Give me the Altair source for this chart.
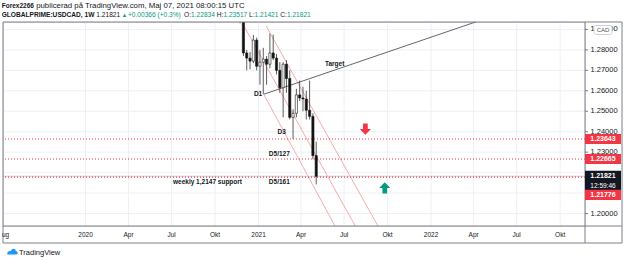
import altair as alt
import pandas as pd

# ---- weekly USDCAD candles ----
weeks = ["2020-11-23", "2020-11-30", "2020-12-07", "2020-12-14", "2020-12-21", "2020-12-28",
         "2021-01-04", "2021-01-11", "2021-01-18", "2021-01-25", "2021-02-01", "2021-02-08",
         "2021-02-15", "2021-02-22", "2021-03-01", "2021-03-08", "2021-03-15", "2021-03-22",
         "2021-03-29", "2021-04-05", "2021-04-12", "2021-04-19", "2021-04-26", "2021-05-03"]
opens = [1.3095, 1.2990, 1.2785, 1.2760, 1.2745, 1.2848, 1.2720, 1.2740, 1.2755, 1.2730,
         1.2785, 1.2760, 1.2700, 1.2615, 1.2730, 1.2660, 1.2470, 1.2490, 1.2580, 1.2565,
         1.2560, 1.2505, 1.2475, 1.22834]
highs = [1.3135, 1.3005, 1.2800, 1.2790, 1.2873, 1.2860, 1.2800, 1.2810, 1.2770, 1.2880,
         1.2875, 1.2780, 1.2740, 1.2740, 1.2750, 1.2700, 1.2510, 1.2610, 1.2650, 1.2620,
         1.2600, 1.2650, 1.2490, 1.23517]
lows = [1.2930, 1.2770, 1.2700, 1.2705, 1.2735, 1.2700, 1.2630, 1.2585, 1.2630, 1.2710,
        1.2750, 1.2680, 1.2590, 1.2470, 1.2590, 1.2460, 1.2365, 1.2470, 1.2550, 1.2500,
        1.2460, 1.2460, 1.2265, 1.21421]
closes = [1.2990, 1.2785, 1.2760, 1.2745, 1.2848, 1.2720, 1.2740, 1.2755, 1.2730, 1.2785,
          1.2760, 1.2700, 1.2615, 1.2730, 1.2660, 1.2470, 1.2490, 1.2580, 1.2565, 1.2560,
          1.2505, 1.2475, 1.2283, 1.21821]

# ---- horizontal levels (D3, D5/127, D5/161) and last price ----
level_prices = [1.23643, 1.22665, 1.21776]
last_close = 1.21821
countdown = "12:59:46"

# ---- drawn trend lines ----
target_dates = ["2021-01-12", "2022-04-07"]
target_prices = [1.2583, 1.2938]

channel_ids = ["a", "a", "b", "b", "c", "c"]
channel_dates = ["2021-01-12", "2021-06-14", "2020-12-01", "2021-07-27", "2021-01-17", "2021-09-13"]
channel_prices = [1.2583, 1.1929, 1.2917, 1.1929, 1.2917, 1.1929]

# ---- annotations ----
note_texts = ["D1", "Target", "D3", "D5/127", "D5/161", "weekly 1,2147 support"]
note_dates = ["2020-12-31", "2021-06-11", "2021-02-19", "2021-02-14", "2021-02-14", "2020-09-15"]
note_prices = [1.2582, 1.2731, 1.2399, 1.2289, 1.2152, 1.2152]

arrow_dates = ["2021-08-15", "2021-09-25"]
arrow_prices = [1.2413, 1.2125]

# ---- scale labels ----
price_ticks = [1.20, 1.21, 1.22, 1.23, 1.24, 1.25, 1.26, 1.27, 1.28, 1.29]
time_ticks = ["2020-01-01", "2020-04-01", "2020-07-01", "2020-10-01", "2021-01-01", "2021-04-01",
              "2021-07-01", "2021-10-01", "2022-01-01", "2022-04-01", "2022-07-01", "2022-10-01"]
time_labels = ["2020", "Apr", "Jul", "Okt", "2021", "Apr", "Jul", "Okt", "2022", "Apr", "Jul", "Okt"]

W, H = 582, 204
FONT = "Liberation Sans"
RED = "#f23645"
TEAL = "#089981"
FRAME = "#7d808a"
GRID = "#edf0f5"
INK = "#131722"

candles = pd.DataFrame({"date": weeks, "open": opens, "high": highs, "low": lows, "close": closes})

xscale = alt.Scale(type="utc", domain=[alt.DateTime(year=2019, month=7, date=21, utc=True),
                                       alt.DateTime(year=2022, month=11, date=12, utc=True)])
yscale = alt.Scale(domain=[1.19389, 1.29364], zero=False, nice=False)


def X(field):
    return alt.X(field, type="temporal", scale=xscale, axis=None)


def Y(field):
    return alt.Y(field, type="quantitative", scale=yscale, axis=None)


one = pd.DataFrame({"k": [0]})

# grid and scale labels drawn from the tick arrays
ptick = pd.DataFrame({"p": price_ticks})
ttick = pd.DataFrame({"date": time_ticks, "lab": time_labels})
hgrid = alt.Chart(ptick).mark_rule(color=GRID, strokeWidth=1).encode(y=Y("p"))
vgrid = alt.Chart(ttick).mark_rule(color=GRID, strokeWidth=1).encode(
    x=X("date"), y=alt.value(0), y2=alt.value(H))
pticks = alt.Chart(ptick).mark_rule(color="#787b86", strokeWidth=1).encode(
    x=alt.value(W), x2=alt.value(W + 3), y=Y("p"))
# labels that sit under the last-price / level tags are not shown
plabels = alt.Chart(ptick).transform_filter("datum.p < 1.205 || datum.p > 1.225").mark_text(
    font=FONT, fontSize=7.5, color=INK, align="left", baseline="middle").encode(
    x=alt.value(W + 5.5), y=Y("p"), text=alt.Text("p:Q", format=".5f"))
tlabels = alt.Chart(ttick).mark_text(font=FONT, fontSize=6.5, color=INK, align="center",
                                     baseline="middle").encode(
    x=X("date"), y=alt.value(H + 9), text="lab:N")

base = alt.Chart(candles).transform_calculate(up="datum.close >= datum.open")
wicks = base.mark_rule(color="#333333", strokeWidth=0.8, clip=True).encode(
    x=X("date"), y=Y("low"), y2="high")
bodies = base.mark_bar(size=2.2, stroke="#1a1a1a", strokeWidth=0.6, clip=True).encode(
    x=X("date"), y=Y("open"), y2="close",
    fill=alt.condition("datum.up", alt.value("white"), alt.value("#111111")))

channel = alt.Chart(pd.DataFrame({"id": channel_ids, "date": channel_dates, "p": channel_prices})).mark_line(
    color="#f5a3a3", strokeWidth=0.9, clip=True).encode(x=X("date"), y=Y("p"), detail="id:N")

target = alt.Chart(pd.DataFrame({"date": target_dates, "p": target_prices})).mark_line(
    color="#555555", strokeWidth=0.9, clip=True).encode(x=X("date"), y=Y("p"))

levels = alt.Chart(pd.DataFrame({"p": level_prices})).mark_rule(
    color=RED, strokeWidth=1.2, strokeDash=[1, 2]).encode(y=Y("p"))

last_line = alt.Chart(pd.DataFrame({"p": [last_close]})).mark_rule(
    color="#c9cbd1", strokeWidth=1).encode(y=Y("p"))

notes = alt.Chart(pd.DataFrame({"t": note_texts, "date": note_dates, "p": note_prices})).mark_text(
    font=FONT, fontSize=6.5, fontWeight="bold", color=INK, align="center", baseline="middle").encode(
    x=X("date"), y=Y("p"), text="t:N")

DOWN = "M-0.42,-1 L0.42,-1 L0.42,0 L1,0 L0,1 L-1,0 L-0.42,0 Z"
UP = "M-0.42,1 L0.42,1 L0.42,0 L1,0 L0,-1 L-1,0 L-0.42,0 Z"
arrow_red = alt.Chart(pd.DataFrame({"date": arrow_dates[:1], "p": arrow_prices[:1]})).mark_point(
    shape=DOWN, size=125, filled=True, color=RED, opacity=1, strokeWidth=0).encode(x=X("date"), y=Y("p"))
arrow_green = alt.Chart(pd.DataFrame({"date": arrow_dates[1:], "p": arrow_prices[1:]})).mark_point(
    shape=UP, size=125, filled=True, color=TEAL, opacity=1, strokeWidth=0).encode(x=X("date"), y=Y("p"))

# price tags on the right scale
tag_main = alt.Chart(pd.DataFrame({"p": level_prices[:2]})).transform_calculate(
    top="datum.p + 0.00245", bot="datum.p - 0.00245")
tag_main_box = tag_main.mark_rect(color=RED).encode(
    x=alt.value(W), x2=alt.value(W + 36), y=Y("top"), y2="bot")
tag_main_txt = alt.Chart(pd.DataFrame({"p": level_prices[:2]})).mark_text(
    font=FONT, fontSize=7, fontWeight="bold", color="white", align="center", baseline="middle").encode(
    x=alt.value(W + 18), y=Y("p"), text=alt.Text("p:Q", format=".5f"))

tag_low = alt.Chart(pd.DataFrame({"p": level_prices[2:]})).transform_calculate(
    top="datum.p - 0.0062", bot="datum.p - 0.0111")
tag_low_box = tag_low.mark_rect(color=RED).encode(
    x=alt.value(W), x2=alt.value(W + 36), y=Y("top"), y2="bot")
tag_low_txt = alt.Chart(pd.DataFrame({"p": level_prices[2:]})).mark_text(
    font=FONT, fontSize=7, fontWeight="bold", color="white", align="center", baseline="middle",
    dy=17.5).encode(x=alt.value(W + 18), y=Y("p"), text=alt.Text("p:Q", format=".5f"))

tag_last = alt.Chart(pd.DataFrame({"p": [last_close]})).transform_calculate(
    top="datum.p + 0.0027", bot="datum.p - 0.0072")
tag_last_box = tag_last.mark_rect(color=INK).encode(
    x=alt.value(W), x2=alt.value(W + 36), y=Y("top"), y2="bot")
tag_last_txt = alt.Chart(pd.DataFrame({"p": [last_close]})).mark_text(
    font=FONT, fontSize=7, fontWeight="bold", color="white", align="center", baseline="middle").encode(
    x=alt.value(W + 18), y=Y("p"), text=alt.Text("p:Q", format=".5f"))
tag_last_cd = alt.Chart(pd.DataFrame({"p": [last_close], "cd": [countdown]})).mark_text(
    font=FONT, fontSize=6.5, color="white", align="center", baseline="middle", dy=10).encode(
    x=alt.value(W + 18), y=Y("p"), text="cd:N")


def rule(x, y, x2=None, y2=None):
    enc = {"x": alt.value(x), "y": alt.value(y)}
    if x2 is not None:
        enc["x2"] = alt.value(x2)
    if y2 is not None:
        enc["y2"] = alt.value(y2)
    return alt.Chart(one).mark_rule(color=FRAME, strokeWidth=1).encode(**enc)


frame = [
    rule(0, 0, x2=W + 37),
    rule(0, H, x2=W + 37),
    rule(0, H + 17, x2=W + 37),
    rule(0, 0, y2=H + 17),
    rule(W, 0, y2=H + 17),
    rule(W + 37, 0, y2=H + 17),
]

cad_box = alt.Chart(one).mark_rect(fill="white", stroke="#c3c6ce", strokeWidth=0.8, cornerRadius=2).encode(
    x=alt.value(W + 9), x2=alt.value(W + 27), y=alt.value(3.5), y2=alt.value(12.5))


def label(txt, x, y, size=6.6, weight="normal", color=INK, align="left"):
    return alt.Chart(pd.DataFrame({"t": [txt]})).mark_text(
        font=FONT, fontSize=size, fontWeight=weight, color=color, align=align, baseline="middle").encode(
        x=alt.value(x), y=alt.value(y), text="t:N")


header = [
    label("Forex2266", -1.3, -16, size=6.5, weight="bold"),
    label("publicerad på TradingView.com, Maj 07, 2021 08:00:15 UTC", 33.2, -16, size=7.8),
    label("GLOBALPRIME:USDCAD, 1W", -1.3, -6.7, weight="bold"),
    label("1.21821", 93.3, -6.7),
    label("▲", 118.8, -6.7, size=5.5, color=TEAL),
    label("+0.00366 (+0.3%)", 125, -6.7, color=TEAL),
    label("O:", 181.1, -6.7),
    label("1.22834", 188.1, -6.7, color=TEAL),
    label("H:", 213.8, -6.7),
    label("1.23517", 220.4, -6.7, color=TEAL),
    label("L:", 246.1, -6.7),
    label("1.21421", 251.6, -6.7, color=TEAL),
    label("C:", 277.3, -6.7),
    label("1.21821", 283.9, -6.7, color=TEAL),
]

CLOUD = ("M-1,0.55 C-1.05,0.05 -0.65,-0.15 -0.35,-0.05 C-0.2,-0.65 0.55,-0.75 0.65,-0.1 "
         "C1.05,-0.1 1.1,0.55 0.7,0.55 Z")
footer = [
    alt.Chart(one).mark_point(shape=CLOUD, size=110, filled=True, color="#2196f3", opacity=1,
                              strokeWidth=0).encode(x=alt.value(9.5), y=alt.value(229.5)),
    label("TradingView", 16, 230.5, size=7.5),
    label("ug", 2.5, H + 9, size=6.5, align="center"),
    label("CAD", W + 18, 8, size=6, color="#555555", align="center"),
]

chart = alt.layer(
    hgrid, vgrid, channel, target, last_line, levels, wicks, bodies, notes, arrow_red, arrow_green,
    pticks, plabels, tlabels, *frame,
    tag_main_box, tag_main_txt, tag_last_box, tag_last_txt, tag_last_cd, tag_low_box, tag_low_txt,
    cad_box, *header, *footer,
).properties(
    width=W, height=H,
    padding={"left": 3, "top": 22, "right": 40, "bottom": 35},
    autosize=alt.AutoSizeParams(type="none"),
).configure_view(stroke=None).configure(background="white")

chart.save("out.html", embed_options={"renderer": "svg", "actions": False})
